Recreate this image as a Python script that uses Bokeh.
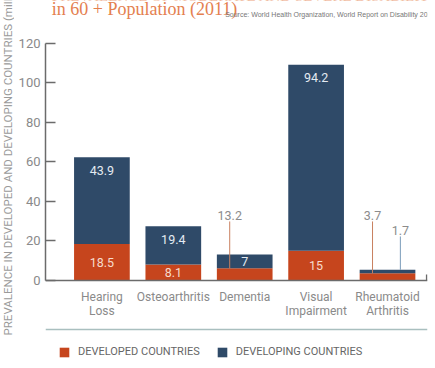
import math
from bokeh.plotting import figure
from bokeh.layouts import row, column
from bokeh.models import (Range1d, FixedTicker, Span, Legend, LegendItem,
                          ColumnDataSource)
from bokeh.core.properties import value
from bokeh.embed import file_html
from bokeh.resources import INLINE

# ---- data (millions of people aged 60+) ----
categories = ["Hearing Loss", "Osteoarthritis", "Dementia",
              "Visual Impairment", "Rheumatoid Arthritis"]
category_labels = ["Hearing\nLoss", "Osteoarthritis", "Dementia",
                   "Visual\nImpairment", "Rheumatoid\nArthritis"]
developed = [18.5, 8.1, 6.2, 15.0, 3.7]
developing = [43.9, 19.4, 7.0, 94.2, 1.7]
y_ticks = [0, 20, 40, 60, 80, 100, 120]
series_names = ["DEVELOPED COUNTRIES", "DEVELOPING COUNTRIES"]

# ---- style ----
ORANGE = "#C6451D"
NAVY = "#2F4A68"
TITLE_ORANGE = "#E4804F"
AXIS_GREY = "#6b6b6b"
TEXT_GREY = "#8a8a8a"
SANS = "Roboto"
SERIF = "Liberation Serif"

W, H = 435, 368
LABEL_W = 14          # strip holding the rotated y-axis title
HEAD_H = 30           # strip holding the heading


def bare(width, height, x_end, y_end):
    f = figure(width=width, height=height, output_backend="svg",
               toolbar_location=None, x_range=Range1d(0, x_end),
               y_range=Range1d(0, y_end), x_axis_location=None,
               y_axis_location=None, min_border=0)
    f.outline_line_color = None
    f.grid.visible = False
    f.border_fill_color = "white"
    return f


# ---- rotated y-axis title, reading upward from near the legend rule ----
ylab = bare(LABEL_W, H, LABEL_W, H)
ylab.text(x=[7], y=[H - 335], text=["PREVALENCE IN DEVELOPED AND DEVELOPING COUNTRIES (millions)"],
          angle=math.pi / 2, text_align="left", text_baseline="middle",
          text_font=value(SANS), text_font_size="11.5px", text_color="#9a9a9a")

# ---- heading (y measured from the top of the strip) ----
head = bare(W - LABEL_W, HEAD_H, W - LABEL_W, HEAD_H)
head.y_range = Range1d(HEAD_H, 0)
head.text(x=[7], y=[-12.5], text=["PREVALENCE OF MODERATE AND SEVERE DISABILITY"],
          text_baseline="top", text_font=value(SERIF), text_font_size="15px",
          text_color=TITLE_ORANGE)
head.text(x=[7], y=[-1.5], text=["in 60 + Population (2011)"],
          text_baseline="top", text_font=value(SERIF), text_font_size="18px",
          text_color=TITLE_ORANGE)
head.text(x=[198], y=[10.5], text=["Source: World Health Organization, World Report on Disability 2011"],
          text_baseline="top", text_font=value("Liberation Sans"),
          text_font_size="7px", text_color="#777777")

# ---- main chart ----
p = figure(width=W - LABEL_W, height=H - HEAD_H, output_backend="svg",
           toolbar_location=None, x_axis_location=None,
           x_range=Range1d(-0.79, 4.56), y_range=Range1d(-44.56, max(y_ticks)),
           min_border_left=31, min_border_right=8, min_border_top=13,
           min_border_bottom=0)
p.outline_line_color = None
p.grid.visible = False
p.background_fill_color = "white"
p.border_fill_color = "white"

xs = list(range(len(categories)))
totals = [a + b for a, b in zip(developed, developing)]
src = ColumnDataSource(dict(x=xs, developed=developed, developing=developing))
bars = p.vbar_stack(["developed", "developing"], x="x", width=0.78, source=src,
                    fill_color=[ORANGE, NAVY], line_color=None)

yax = p.yaxis[0]
yax.ticker = FixedTicker(ticks=y_ticks)
yax.bounds = (min(y_ticks), max(y_ticks))
yax.major_tick_in = 10
yax.major_tick_out = 0
yax.minor_tick_line_color = None
yax.axis_line_color = AXIS_GREY
yax.axis_line_width = 1.5
yax.major_tick_line_color = AXIS_GREY
yax.major_tick_line_width = 1.5
yax.major_label_text_font = SANS
yax.major_label_text_font_size = "13px"
yax.major_label_text_color = TEXT_GREY
yax.major_label_standoff = 5

# baseline at zero, its small closing tick, and the rule above the legend
p.add_layout(Span(location=0, dimension="width", line_color=AXIS_GREY, line_width=1.5))
x_end = p.x_range.end - 0.012
p.segment(x0=[x_end], x1=[x_end], y0=[0], y1=[3], line_color=AXIS_GREY, line_width=1.5)
p.add_layout(Span(location=-24.8, dimension="width", line_color="#a9bfbf", line_width=1.5))

# category names under the bars
p.text(x=xs, y=[0] * len(xs), text=category_labels, text_align="center",
       text_baseline="top", y_offset=10, text_font=value(SANS),
       text_font_size="12px", text_color=TEXT_GREY, text_line_height=0.95)

# value labels inside the segments
in_x, in_y, in_t, in_c = [], [], [], []
for i in xs:
    if developed[i] >= 7:
        in_x.append(i); in_y.append(developed[i] / 2)
        in_t.append(f"{developed[i]:g}"); in_c.append("#f7dccd")
    if developing[i] >= 7:
        in_x.append(i); in_y.append(totals[i] - min(6.5, developing[i] / 2))
        in_t.append(f"{developing[i]:g}"); in_c.append("#e4ebf2")
p.text(x=in_x, y=in_y, text=in_t, text_color=in_c, text_align="center",
       text_baseline="middle", text_font=value(SANS), text_font_size="12.5px")

# callouts for the small segments:
# (bar index, series, horizontal shift, label height, show stack total)
callouts = [(2, "developed", -0.21, 29.9, True),
            (4, "developed", -0.21, 29.9, False),
            (4, "developing", 0.18, 22.3, False)]
c_x, c_y0, c_y1, c_col, c_txt = [], [], [], [], []
for i, series, dx, ytop, show_total in callouts:
    seg_top = developed[i] if series == "developed" else totals[i]
    val = totals[i] if show_total else (developed[i] if series == "developed" else developing[i])
    c_x.append(i + dx); c_y0.append(seg_top); c_y1.append(ytop)
    c_col.append("#c98060" if series == "developed" else "#7a9cba")
    c_txt.append(f"{val:g}")
p.segment(x0=c_x, x1=c_x, y0=c_y0, y1=c_y1, line_color=c_col, line_width=1)
p.text(x=c_x, y=c_y1, text=c_txt, text_align="center", text_baseline="bottom",
       y_offset=-1, text_font=value(SANS), text_font_size="12.5px",
       text_color="#8c8c8c")

# legend
legend = Legend(items=[LegendItem(label=series_names[0], renderers=[bars[0]]),
                       LegendItem(label=series_names[1], renderers=[bars[1]])],
                orientation="horizontal", location=(13, 10),
                glyph_width=12, glyph_height=12, label_height=12,
                label_standoff=8, spacing=16, padding=0, margin=0,
                label_text_font=SANS, label_text_font_size="11px",
                label_text_color="#666666", border_line_color=None,
                background_fill_alpha=0)
p.add_layout(legend, "center")

layout = row(ylab, column(head, p))
open("out.html", "w").write(file_html(layout, INLINE))
